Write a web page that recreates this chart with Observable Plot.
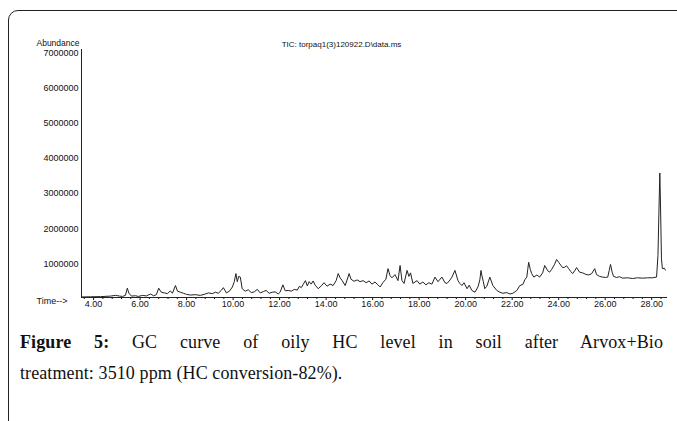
<!DOCTYPE html>
<html>
<head>
<meta charset="utf-8">
<script src="https://cdn.jsdelivr.net/npm/d3@7"></script>
<script src="https://cdn.jsdelivr.net/npm/@observablehq/plot@0.6"></script>
<style>
  html, body { margin: 0; padding: 0; background: #fff; }
  #wrap { position: relative; width: 677px; height: 421px; overflow: hidden; }
  #frame { position: absolute; left: 8px; top: 10px; width: 720px; height: 500px;
           border: 1.5px solid #222; border-top-left-radius: 10px; box-sizing: border-box; }
  #chart { position: absolute; left: 0; top: 0; }
  #caption { position: absolute; left: 20px; top: 327px; width: 643px;
             font-family: "Liberation Serif", "Times New Roman", serif; font-size: 18px;
             letter-spacing: 0.1px; line-height: 31px; color: #111; }
  #caption .l1 { text-align: justify; text-align-last: justify; }
</style>
</head>
<body>
<div id="wrap">
  <div id="frame"></div>
  <div id="chart"></div>
  <div id="caption">
    <div class="l1"><b>Figure 5:</b> GC curve of oily HC level in soil after Arvox+Bio</div>
    <div>treatment: 3510 ppm (HC conversion-82%).</div>
  </div>
</div>
<script>
const titleText = "TIC: torpaq1(3)120922.D\\data.ms";
const yLabel = "Abundance";
const xLabel = "Time-->";
const xTicks = [4, 6, 8, 10, 12, 14, 16, 18, 20, 22, 24, 26, 28];
const yTicks = [1000000, 2000000, 3000000, 4000000, 5000000, 6000000, 7000000];
const xDomain = [3.48, 28.68];
const yDomain = [0, 7050000];

const times = [3.48,3.87,4.30,4.73,4.94,5.12,5.24,5.37,5.45,5.52,
5.63,5.80,5.93,6.10,6.27,6.45,6.58,6.70,6.80,6.91,
7.05,7.18,7.30,7.39,7.52,7.61,7.73,7.86,7.99,8.16,
8.38,8.59,8.76,8.94,9.11,9.24,9.36,9.49,9.58,9.71,
9.84,9.97,10.05,10.12,10.18,10.24,10.31,10.39,10.52,10.65,
10.78,10.91,11.04,11.17,11.30,11.42,11.55,11.68,11.81,11.94,
12.02,12.14,12.24,12.37,12.50,12.63,12.76,12.85,12.93,13.02,
13.11,13.19,13.27,13.36,13.44,13.53,13.66,13.79,13.91,14.04,
14.17,14.30,14.43,14.52,14.60,14.69,14.82,14.90,14.99,15.07,
15.20,15.33,15.46,15.59,15.72,15.85,15.97,16.10,16.23,16.32,
16.45,16.57,16.66,16.75,16.83,16.96,17.09,17.18,17.26,17.35,
17.48,17.56,17.63,17.73,17.91,18.03,18.16,18.29,18.42,18.55,
18.68,18.81,18.98,19.11,19.20,19.33,19.41,19.54,19.67,19.75,
19.84,19.93,20.06,20.15,20.27,20.40,20.53,20.61,20.66,20.70,
20.76,20.82,20.91,21.04,21.17,21.34,21.47,21.60,21.77,21.90,
22.03,22.20,22.33,22.46,22.54,22.63,22.67,22.71,22.78,22.84,
22.93,23.06,23.18,23.31,23.40,23.53,23.61,23.70,23.83,23.91,
24.00,24.09,24.17,24.26,24.34,24.43,24.52,24.60,24.69,24.77,
24.90,25.03,25.16,25.29,25.42,25.55,25.63,25.76,25.89,26.02,
26.11,26.17,26.23,26.30,26.36,26.49,26.62,26.75,26.96,27.18,
27.39,27.61,27.82,28.03,28.21,28.27,28.31,28.35,28.38,28.42,
28.46,28.55,28.59];

const abundance = [15000,20000,25000,40000,60000,40000,30000,60000,265000,120000,
40000,50000,30000,60000,45000,100000,50000,80000,265000,150000,
130000,110000,190000,120000,340000,180000,150000,120000,90000,70000,
80000,60000,90000,130000,110000,150000,120000,200000,280000,130000,
180000,300000,450000,680000,450000,600000,580000,250000,180000,220000,
140000,160000,230000,130000,170000,200000,120000,150000,160000,100000,
150000,360000,190000,200000,180000,230000,210000,320000,280000,380000,
480000,330000,450000,380000,470000,350000,250000,330000,420000,320000,
380000,340000,480000,680000,560000,480000,340000,500000,680000,520000,
460000,500000,450000,480000,420000,470000,380000,440000,360000,300000,
430000,520000,820000,620000,560000,650000,480000,910000,480000,400000,
770000,600000,700000,400000,480000,380000,440000,360000,420000,380000,
580000,450000,580000,420000,400000,500000,580000,770000,480000,400000,
340000,420000,250000,350000,200000,150000,300000,500000,770000,620000,
450000,250000,320000,580000,340000,200000,150000,120000,140000,100000,
120000,200000,340000,370000,500000,580000,800000,1000000,800000,680000,
580000,640000,580000,700000,910000,760000,720000,800000,950000,1080000,
1000000,920000,850000,860000,900000,820000,740000,680000,760000,850000,
720000,700000,660000,640000,680000,820000,650000,600000,580000,570000,
580000,760000,940000,720000,600000,570000,590000,550000,560000,540000,
560000,550000,560000,560000,580000,1200000,2400000,3540000,2600000,1100000,
820000,830000,780000];

const data = times.map((t, i) => ({t, a: abundance[i]}));
const minorTicks = d3.range(3.6, 28.7, 0.4).filter(v => Math.abs(v / 2 - Math.round(v / 2)) > 0.01);

const chart = Plot.plot({
  width: 677,
  height: 312,
  marginLeft: 81,
  marginRight: 10,
  marginTop: 49,
  marginBottom: 15,
  style: {fontFamily: "'Liberation Sans', Arial, sans-serif", fontSize: "9px", background: "transparent", color: "#111"},
  x: {domain: xDomain},
  y: {domain: yDomain},
  marks: [
    Plot.axisY({ticks: yTicks, tickSize: 0, tickPadding: 3, tickFormat: d3.format("d"), label: null, dy: 1.5}),
    Plot.axisX({ticks: xTicks, tickSize: 3, tickPadding: 0, tickFormat: d => d.toFixed(2), label: null}),
    Plot.axisX({ticks: minorTicks, tickSize: 2, tickFormat: () => "", label: null}),
    Plot.ruleY([0], {stroke: "#222", strokeWidth: 1}),
    Plot.ruleX([xDomain[0]], {stroke: "#222", strokeWidth: 1}),
    Plot.line(data, {x: "t", y: "a", stroke: "#222", strokeWidth: 1}),
    Plot.text([yLabel], {frameAnchor: "top-left", textAnchor: "end", dx: -2, dy: -9.5, fill: "#111", fontSize: 8.5}),
    Plot.text([titleText], {frameAnchor: "top-left", textAnchor: "middle", dx: 260, dy: -8, fill: "#111", fontSize: 8}),
    Plot.text([xLabel], {frameAnchor: "bottom-left", textAnchor: "end", dx: -14, dy: 6, fill: "#111"})
  ]
});
document.getElementById("chart").appendChild(chart);
</script>
</body>
</html>
